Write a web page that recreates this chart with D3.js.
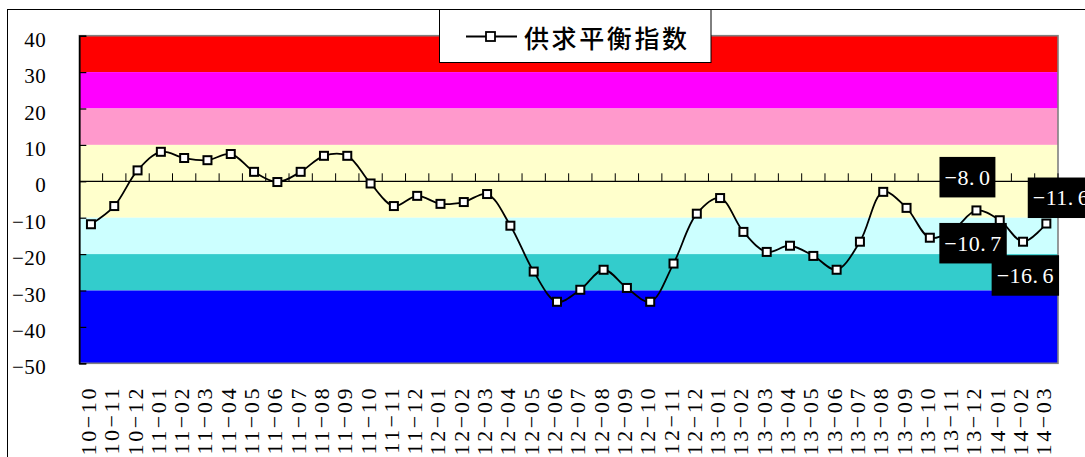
<!DOCTYPE html>
<html>
<head>
<meta charset="utf-8">
<script src="https://cdn.jsdelivr.net/npm/d3@7"></script>
<style>
  html, body { margin: 0; padding: 0; background: #fff; }
  svg { display: block; }
  .serif { font-family: "Liberation Serif", "Times New Roman", Times, serif; }
  .cjk { font-family: "Noto Sans CJK SC", sans-serif; }
</style>
</head>
<body>
<svg id="chart" width="1085" height="457"></svg>
<script>
// Monthly supply-demand balance index, Oct 2010 – Mar 2014
const categories = [
  "10-10","10-11","10-12",
  "11-01","11-02","11-03","11-04","11-05","11-06","11-07","11-08","11-09","11-10","11-11","11-12",
  "12-01","12-02","12-03","12-04","12-05","12-06","12-07","12-08","12-09","12-10","12-11","12-12",
  "13-01","13-02","13-03","13-04","13-05","13-06","13-07","13-08","13-09","13-10","13-11","13-12",
  "14-01","14-02","14-03"
];
const values = [
  -11.8, -6.8, 3.0,
  8.1, 6.4, 5.8, 7.5, 2.6, -0.2, 2.6, 7.0, 7.0, -0.6, -6.8, -4.0,
  -6.2, -5.7, -3.5, -12.2, -24.8, -33.1, -29.8, -24.3, -29.3, -33.1, -22.6, -8.9,
  -4.6, -13.9, -19.4, -17.7, -20.5, -24.3, -16.6, -2.9, -7.3, -15.5, -13.3, -8.0,
  -10.7, -16.6, -11.6
];
const seriesName = "供求平衡指数";
const yTicks = [40, 30, 20, 10, 0, -10, -20, -30, -40, -50];
// background zones: [upper bound, lower bound]
const zoneBounds = [[40, 30], [30, 20], [20, 10], [10, -10], [-10, -20], [-20, -30], [-30, -50]];
const zoneColors = ["#FF0000", "#FF00FF", "#FF99CC", "#FFFFCC", "#CCFFFF", "#33CCCC", "#0000FF"];
// months whose values are printed
const labeledMonths = ["13-12", "14-01", "14-02", "14-03"];

// ---- layout ----
const plot = { left: 79.3, right: 1058, top: 35.7, bottom: 363.3 };
const labelOffsets = { "13-12": [-9, -33.5], "14-01": [-26.7, 22.7], "14-02": [2.3, 33.5], "14-03": [14.7, -26] };

const svg = d3.select("#chart");
const data = categories.map((c, i) => ({ month: c, value: values[i] }));

const x = d3.scaleBand().domain(categories).range([plot.left, plot.right]).padding(0);
const y = d3.scaleLinear().domain([-50, 40]).range([plot.bottom, plot.top]);
const cx = d => x(d.month) + x.bandwidth() / 2;
const fmt = v => (v < 0 ? "\u2212" : "") + Math.abs(v);

// outer chart frame
svg.append("rect")
  .attr("x", 7.5).attr("y", 9.5).attr("width", 1200).attr("height", 600)
  .attr("fill", "#fff").attr("stroke", "#000").attr("stroke-width", 1);

// zones
svg.append("g").selectAll("rect")
  .data(zoneBounds)
  .join("rect")
  .attr("x", plot.left)
  .attr("y", d => y(d[0]))
  .attr("width", plot.right - plot.left)
  .attr("height", d => y(d[1]) - y(d[0]))
  .attr("fill", (d, i) => zoneColors[i]);

// plot frame
svg.append("rect")
  .attr("x", plot.left).attr("y", plot.top)
  .attr("width", plot.right - plot.left).attr("height", plot.bottom - plot.top)
  .attr("fill", "none").attr("stroke", "#808080").attr("stroke-width", 1.6);

// y axis
const yAxis = svg.append("g")
  .attr("transform", `translate(${plot.left},0)`)
  .call(d3.axisLeft(y).tickValues(yTicks).tickSize(-7).tickPadding(33).tickFormat(fmt));
yAxis.attr("font-family", null).attr("font-size", null);
yAxis.select(".domain").attr("stroke", "#000").attr("stroke-width", 1.6);
yAxis.selectAll(".tick line").attr("stroke", "#000").attr("stroke-width", 1.2);
yAxis.selectAll("text")
  .attr("class", "serif")
  .attr("font-size", 21).attr("fill", "#000")
  .attr("letter-spacing", 0.5).attr("dy", "0.5em");

// zero line with category-boundary ticks
const y0 = y(0);
svg.append("line")
  .attr("x1", plot.left).attr("x2", plot.right).attr("y1", y0).attr("y2", y0)
  .attr("stroke", "#000").attr("stroke-width", 1.2);
svg.append("g").selectAll("line")
  .data(categories.slice(1))
  .join("line")
  .attr("x1", d => x(d)).attr("x2", d => x(d))
  .attr("y1", y0 - 8).attr("y2", y0)
  .attr("stroke", "#000").attr("stroke-width", 1);
svg.append("line")
  .attr("x1", plot.right).attr("x2", plot.right).attr("y1", y0 - 8).attr("y2", y0)
  .attr("stroke", "#000").attr("stroke-width", 1);

// category labels (vertical)
svg.append("g").selectAll("text")
  .data(categories)
  .join("text")
  .attr("class", "serif")
  .attr("transform", d => `translate(${x(d) + x.bandwidth() / 2 - 2.5},386) rotate(-90)`)
  .attr("text-anchor", "end")
  .attr("dominant-baseline", "central")
  .attr("font-size", 22).attr("letter-spacing", 2.6)
  .attr("fill", "#000")
  .text(d => d.replace("-", "\u2212"));

// series line
const line = d3.line()
  .x(cx).y(d => y(d.value))
  .curve(d3.curveCatmullRom.alpha(0.5));
svg.append("path")
  .datum(data)
  .attr("d", line)
  .attr("fill", "none").attr("stroke", "#000").attr("stroke-width", 1.8);

// markers
svg.append("g").selectAll("rect")
  .data(data)
  .join("rect")
  .attr("x", d => cx(d) - 4).attr("y", d => y(d.value) - 4)
  .attr("width", 8).attr("height", 8)
  .attr("fill", "#fff").attr("stroke", "#000").attr("stroke-width", 2);

// value labels
const labelData = data.filter(d => labeledMonths.includes(d.month));
const lg = svg.append("g").selectAll("g")
  .data(labelData)
  .join("g")
  .attr("transform", d => {
    const o = labelOffsets[d.month];
    return `translate(${cx(d) + o[0]},${y(d.value) + o[1]})`;
  });
const lbox = lg.append("rect").attr("fill", "#000");
const ltext = lg.append("text")
  .attr("class", "serif")
  .attr("text-anchor", "middle")
  .attr("dy", "0.35em")
  .attr("font-size", 22).attr("fill", "#fff")
  .attr("letter-spacing", 0.5);
ltext.each(function(d) {
  const str = (d.value < 0 ? "\u2212" : "") + Math.abs(d.value).toFixed(1);
  const parts = str.split(".");
  const t = d3.select(this);
  t.append("tspan").text(parts[0] + ".");
  t.append("tspan").attr("dx", 4).text(parts[1]);
});
lbox.each(function() {
  const t = d3.select(this.parentNode).select("text").node();
  const w = t.getBBox().width + 10;
  d3.select(this).attr("x", -w / 2).attr("y", -20).attr("width", w).attr("height", 40.5);
});

// legend
const leg = svg.append("g");
leg.append("rect")
  .attr("x", 439.5).attr("y", 9.5).attr("width", 271.5).attr("height", 53)
  .attr("fill", "#fff").attr("stroke", "#000").attr("stroke-width", 1);
leg.append("line")
  .attr("x1", 466).attr("x2", 517).attr("y1", 36.5).attr("y2", 36.5)
  .attr("stroke", "#000").attr("stroke-width", 1.8);
leg.append("rect")
  .attr("x", 486).attr("y", 32).attr("width", 9).attr("height", 9)
  .attr("fill", "#fff").attr("stroke", "#000").attr("stroke-width", 1.8);
leg.append("text")
  .attr("class", "cjk")
  .attr("x", 524).attr("y", 37)
  .attr("dominant-baseline", "central")
  .attr("font-size", 25).attr("font-weight", 500).attr("letter-spacing", 2.6).attr("fill", "#000")
  .text(seriesName);
</script>
</body>
</html>
